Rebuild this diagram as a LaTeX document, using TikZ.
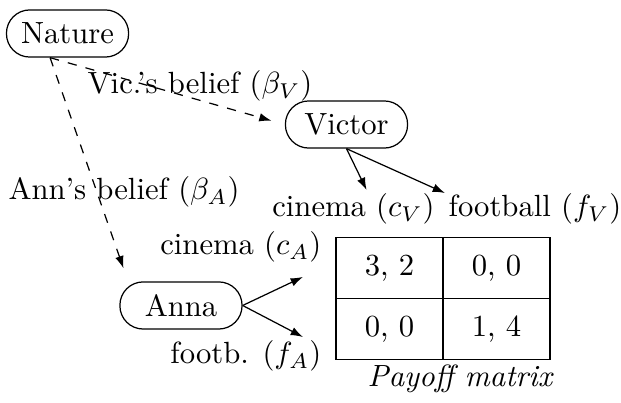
\documentclass[tikz,border=0pt]{standalone}
\usepackage{amsmath}
\usepackage{amssymb}
\usetikzlibrary{arrows.meta, positioning}

\begin{document}
\begin{tikzpicture}[
  agent/.style={draw, rounded corners=7.6pt, minimum height=0.54cm, minimum width=1.4cm, align=center},
  lbl/.style={inner sep=1pt},
  cell/.style={draw, outer sep=0pt, minimum width=1.226cm, minimum height=0.699cm},
  arr/.style={-{Latex[length=4pt, width=2.8pt]}},
  belief/.style={-{Latex[length=4pt, width=2.8pt]}, dashed, shorten >=4.5pt}
]
\useasboundingbox (0,0) rectangle (7.117,-4.618);
\node[agent] (nature) at (0.774,-0.384) {Nature};
\node[agent] (victor) at (3.971,-1.427) {Victor};
\node[agent] (anna)   at (2.074,-3.501) {Anna};
\node[lbl] (vicbelief) at (2.292,-0.986) {Vic.'s belief ($\beta_V$)};
\node[lbl] (annbelief) at (1.421,-2.200) {Ann's belief ($\beta_A$)};
\node[lbl] (cv) at (4.051,-2.395) {cinema ($c_V$)};
\node[lbl] (fv) at (6.131,-2.395) {football ($f_V$)};
\node[lbl, anchor=east] (ca) at (3.725,-2.831) {cinema ($c_A$)};
\node[lbl, anchor=east] (fa) at (3.725,-4.080) {footb. ($f_A$)};
\coordinate (catip) at (3.472,-3.174);
\coordinate (fatip) at (3.472,-3.862);
% payoff matrix
\node[cell] (c11) at (4.464,-3.071) {3, 2};
\node[cell, right=0pt of c11] (c12) {0, 0};
\node[cell, below=0pt of c11] (c21) {0, 0};
\node[cell, below=0pt of c12] (c22) {1, 4};
\node[lbl] (payoff) at (5.28,-4.345) {\textit{Payoff matrix}};
% beliefs
\draw[belief] ([xshift=-0.2cm]nature.south) -- (victor.west);
\draw[belief] ([xshift=-0.2cm]nature.south) -- ([xshift=0.1cm]anna.north west);
% choices
\draw[arr] (victor.south) -- ([xshift=0.15cm]cv.north);
\draw[arr] (victor.south) -- ([yshift=-1pt]fv.north west);
\draw[arr] (anna.east) -- (catip);
\draw[arr] (anna.east) -- (fatip);
\end{tikzpicture}
\end{document}
